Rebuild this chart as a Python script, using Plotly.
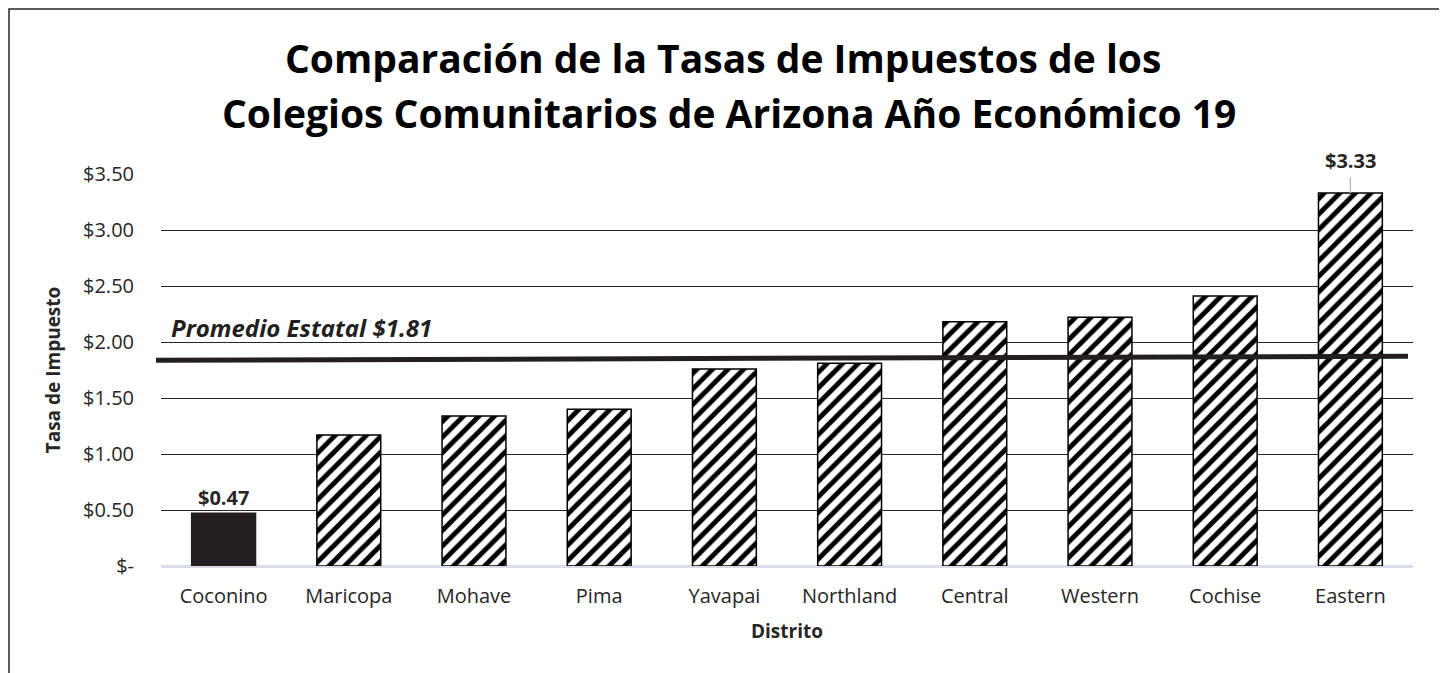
import plotly.graph_objects as go

districts = ["Coconino", "Maricopa", "Mohave", "Pima", "Yavapai", "Northland",
             "Central", "Western", "Cochise", "Eastern"]
rates = [0.47, 1.17, 1.34, 1.40, 1.76, 1.81, 2.18, 2.22, 2.41, 3.33]
state_avg = 1.81
tick_vals = [0, 0.5, 1.0, 1.5, 2.0, 2.5, 3.0, 3.5]
tick_text = ["$-", "$0.50", "$1.00", "$1.50", "$2.00", "$2.50", "$3.00", "$3.50"]
title_line1 = "Comparación de la Tasas de Impuestos de los"
title_line2 = "Colegios Comunitarios de Arizona Año Económico 19"
avg_label = "Promedio Estatal $1.81"

FONT = "Open Sans"
dark = "#231f20"
txt = "#262626"

fig = go.Figure()

# highlighted (solid) bar
fig.add_trace(go.Bar(
    x=districts[:1], y=rates[:1],
    marker=dict(color=dark, line=dict(color=dark, width=1.5)),
    width=0.51, showlegend=False, hoverinfo="x+y",
))
# hatched bars
fig.add_trace(go.Bar(
    x=districts[1:], y=rates[1:],
    marker=dict(color="white",
                line=dict(color="black", width=1.5),
                pattern=dict(shape="/", fgcolor="black", bgcolor="white",
                             fgopacity=1, size=11, solidity=0.45)),
    width=0.51, showlegend=False, hoverinfo="x+y",
))

# data labels
fig.add_annotation(x=districts[0], y=rates[0], text="<b>$%.2f</b>" % rates[0],
                   showarrow=False, yanchor="middle", yshift=16,
                   font=dict(family=FONT, size=20, color=txt))
fig.add_annotation(x=districts[-1], y=rates[-1], text="<b>$%.2f</b>" % rates[-1],
                   showarrow=False, yanchor="middle", yshift=33,
                   font=dict(family=FONT, size=20, color=txt))
# leader line for the Eastern label
fig.add_shape(type="line", xref="x", yref="y",
              x0=districts[-1], x1=districts[-1], y0=rates[-1], y1=rates[-1] + 0.14,
              line=dict(color="#a5b4c8", width=1.2))

# state average line (thick dark line)
fig.add_shape(type="line", xref="paper", yref="y",
              x0=-0.004, x1=0.996, y0=state_avg + 0.027, y1=state_avg + 0.062,
              line=dict(color=dark, width=5), layer="above")
fig.add_annotation(xref="paper", yref="y", x=0.0064, y=2.13,
                   text="<b><i>" + avg_label + "</i></b>", showarrow=False,
                   xanchor="left", yanchor="middle",
                   font=dict(family=FONT, size=24, color=dark))

# title (two lines)
fig.add_annotation(xref="paper", yref="paper", x=0.449, y=1.296,
                   text="<b>" + title_line1 + "</b>", showarrow=False,
                   xanchor="center", yanchor="middle",
                   font=dict(family=FONT, size=39, color="#000000"))
fig.add_annotation(xref="paper", yref="paper", x=0.4537, y=1.158,
                   text="<b>" + title_line2 + "</b>", showarrow=False,
                   xanchor="center", yanchor="middle",
                   font=dict(family=FONT, size=39, color="#000000"))

# outer border of chart
fig.add_shape(type="rect", xref="paper", yref="paper",
              x0=-0.1214, x1=1.0232, y0=-0.4, y1=1.421,
              line=dict(color=txt, width=1.5), fillcolor="rgba(0,0,0,0)")

fig.update_layout(
    width=1447, height=673,
    margin=dict(l=153, r=42, t=166, b=115),
    paper_bgcolor="white", plot_bgcolor="white",
    bargap=0.49,
    font=dict(family=FONT, color=txt),
    xaxis=dict(
        tickfont=dict(family=FONT, size=20, color=txt),
        title=dict(text="<b>Distrito</b>", font=dict(family=FONT, size=19, color=txt),
                   standoff=16),
        showline=False, ticks="", showgrid=False, ticklabelstandoff=16,
    ),
    yaxis=dict(
        range=[0, 3.5], tickvals=tick_vals, ticktext=tick_text,
        tickfont=dict(family=FONT, size=20, color=txt),
        title=dict(text="<b>Tasa de Impuesto</b>", font=dict(family=FONT, size=19, color=txt),
                   standoff=17),
        showgrid=True, gridcolor="#262626", gridwidth=1.3,
        zeroline=True, zerolinecolor="#d9dde6", zerolinewidth=2.5,
        ticks="", ticklabelstandoff=26,
    ),
)

fig.write_html("out.html")
